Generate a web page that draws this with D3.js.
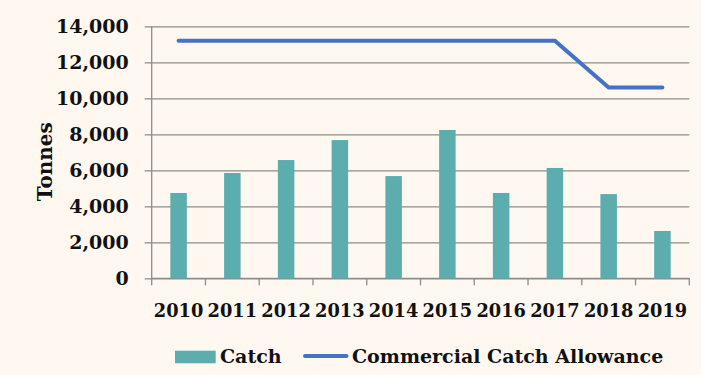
<!DOCTYPE html>
<html>
<head>
<meta charset="utf-8">
<script src="https://cdn.jsdelivr.net/npm/d3@7"></script>
<style>
  body { margin: 0; background: #fef8f1; }
  svg { display: block; }
</style>
</head>
<body>
<div id="chart"></div>
<script>
// values
const years = ["2010", "2011", "2012", "2013", "2014", "2015", "2016", "2017", "2018", "2019"];
const catchValues = [4740, 5850, 6570, 7680, 5680, 8240, 4740, 6130, 4680, 2630];
const allowance = [13200, 13200, 13200, 13200, 13200, 13200, 13200, 13200, 10600, 10600];
const yTicks = [0, 2000, 4000, 6000, 8000, 10000, 12000, 14000];

const width = 701, height = 375;
const margin = {top: 26.3, right: 11.7, bottom: 96.7, left: 151.7};
const font = "'DejaVu Serif', serif";
const fs = "19px";

const svg = d3.select("#chart").append("svg")
  .attr("width", width).attr("height", height);

svg.append("rect").attr("width", width).attr("height", height).attr("fill", "#fef8f1");

const g = svg.append("g").attr("transform", `translate(${margin.left},${margin.top})`);
const w = width - margin.left - margin.right;
const h = height - margin.top - margin.bottom;

const x = d3.scaleBand().domain(years).range([0, w]);
const y = d3.scaleLinear().domain([0, 14000]).range([h, 0]);

// gridlines + y labels
const yAxis = g.append("g")
  .attr("transform", "translate(-7,0)")
  .call(d3.axisLeft(y).tickValues(yTicks).tickSize(0).tickPadding(16).tickFormat(d3.format(",")));
yAxis.select(".domain").remove();
yAxis.selectAll(".tick line")
  .attr("x1", 0).attr("x2", w + 7)
  .attr("stroke", "#8c8c8c").attr("stroke-width", 1.3);
yAxis.selectAll(".tick text")
  .attr("font-family", font).attr("font-weight", "bold").attr("font-size", fs).attr("fill", "#111");

// vertical axis line
g.append("line").attr("x1", 0).attr("x2", 0).attr("y1", 0).attr("y2", h)
  .attr("stroke", "#8c8c8c").attr("stroke-width", 1.3);

// x axis with ticks at band edges
const xAxis = g.append("g").attr("transform", `translate(0,${h})`);
xAxis.append("line").attr("x1", 0).attr("x2", w).attr("stroke", "#8c8c8c").attr("stroke-width", 1.3);
xAxis.selectAll(".edge").data(years.concat(["end"])).enter().append("line")
  .attr("x1", (d, i) => i * x.step()).attr("x2", (d, i) => i * x.step())
  .attr("y1", 0).attr("y2", 7)
  .attr("stroke", "#8c8c8c").attr("stroke-width", 1.3);
xAxis.selectAll(".lbl").data(years).enter().append("text")
  .attr("x", d => x(d) + x.bandwidth() / 2)
  .attr("y", 38.5)
  .attr("text-anchor", "middle")
  .attr("font-family", font).attr("font-weight", "bold").attr("font-size", "17.8px").attr("fill", "#111")
  .text(d => d);

// bars
const barW = 16.5;
g.selectAll(".bar").data(years).enter().append("rect")
  .attr("x", d => x(d) + x.bandwidth() / 2 - barW / 2)
  .attr("y", (d, i) => y(catchValues[i]))
  .attr("width", barW)
  .attr("height", (d, i) => h - y(catchValues[i]))
  .attr("fill", "#5baead");

// allowance line
const line = d3.line()
  .x((d, i) => x(years[i]) + x.bandwidth() / 2)
  .y(d => y(d));
g.append("path").datum(allowance)
  .attr("d", line)
  .attr("fill", "none")
  .attr("stroke", "#4472c4")
  .attr("stroke-width", 4)
  .attr("stroke-linecap", "round");

// y title
svg.append("text")
  .attr("transform", "translate(51.5,161.7) rotate(-90)")
  .attr("text-anchor", "middle")
  .attr("font-family", font).attr("font-weight", "bold").attr("font-size", "20px").attr("fill", "#111")
  .text("Tonnes");

// legend
const lg = svg.append("g");
lg.append("rect").attr("x", 175).attr("y", 350.7).attr("width", 40.7).attr("height", 12.6).attr("fill", "#5baead");
lg.append("text").attr("x", 220).attr("y", 363)
  .attr("font-family", font).attr("font-weight", "bold").attr("font-size", fs).attr("fill", "#111")
  .text("Catch");
lg.append("line").attr("x1", 305).attr("x2", 346.5).attr("y1", 356).attr("y2", 356)
  .attr("stroke", "#4472c4").attr("stroke-width", 4).attr("stroke-linecap", "round");
lg.append("text").attr("x", 352).attr("y", 363)
  .attr("font-family", font).attr("font-weight", "bold").attr("font-size", fs).attr("fill", "#111")
  .text("Commercial Catch Allowance");
</script>
</body>
</html>
